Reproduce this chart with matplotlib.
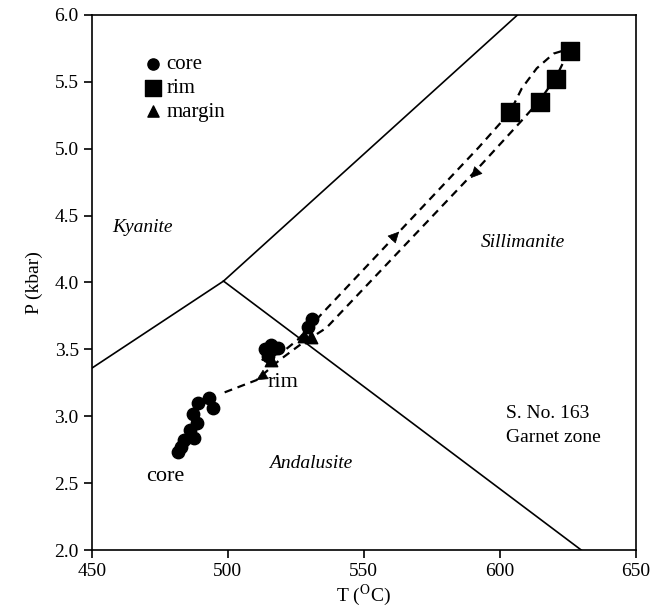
import numpy as np
import matplotlib
matplotlib.use("Agg")
from matplotlib import pyplot as plt

plt.rcParams['font.family'] = ['Liberation Serif', 'DejaVu Serif']
plt.rcParams['mathtext.fontset'] = 'stix'

# aluminosilicate reaction lines (T in oC, P in kbar)
ky_and_T = [450, 498.4]
ky_and_P = [3.36, 4.01]
ky_sil_T = [498.4, 606.6]
ky_sil_P = [4.01, 6.0]
and_sil_T = [498.4, 630.0]
and_sil_P = [4.01, 2.0]

# plagioclase cores
core_T = [492.9, 494.4, 488.9, 487.1, 488.5, 485.9, 487.4, 483.7, 482.6, 481.5,
          513.5, 516.0, 518.6, 514.6, 531.1, 529.6]
core_P = [3.14, 3.06, 3.10, 3.02, 2.95, 2.90, 2.84, 2.82, 2.77, 2.73,
          3.50, 3.53, 3.51, 3.45, 3.73, 3.67]
# porphyroblast rims
rim_T = [603.7, 614.7, 620.6, 625.7]
rim_P = [5.27, 5.35, 5.52, 5.73]
# margins
margin_T = [516.0, 528.1, 530.7]
margin_P = [3.42, 3.60, 3.59]

# prograde path (up to the rims)
pathA_T = [512.4, 520.1, 525.6, 532.9, 592.3, 603.7, 608.1, 613.6, 619.8, 624.6]
pathA_P = [3.42, 3.48, 3.57, 3.73, 5.01, 5.27, 5.45, 5.60, 5.71, 5.74]
# retrograde path (back down)
pathB_T = [625.7, 623.5, 620.6, 614.7, 608.1, 592.3, 536.2,
           526.3, 519.0, 510.5, 497.7]
pathB_P = [5.72, 5.65, 5.53, 5.36, 5.21, 4.86, 3.66,
           3.53, 3.42, 3.27, 3.17]

fig = plt.figure(figsize=(6.52, 6.16), dpi=100)
ax = fig.add_axes([0.141, 0.107, 0.834, 0.869])

for T, P in [(ky_and_T, ky_and_P), (ky_sil_T, ky_sil_P), (and_sil_T, and_sil_P)]:
    ax.plot(T, P, color='black', lw=1.2)

ax.plot(pathA_T, pathA_P, color='black', lw=1.6, ls=(0, (3.6, 2.6)))
ax.plot(pathB_T, pathB_P, color='black', lw=1.6, ls=(0, (3.6, 2.6)))

# arrow heads along the paths
def head(T, P):
    ax.annotate('', xy=(T[1], P[1]), xytext=(T[0], P[0]),
                arrowprops=dict(arrowstyle='-|>', color='black', lw=0.5,
                                mutation_scale=18, shrinkA=0, shrinkB=0))

head([561.0, 563.0], [4.337, 4.38])
head([591.4, 589.4], [4.824, 4.78])
head([512.5, 510.5], [3.295, 3.27])

ax.scatter(core_T, core_P, s=80, marker='o', color='black', label='core', zorder=3)
ax.scatter(rim_T, rim_P, s=150, marker='s', color='black', label='rim', zorder=3)
ax.scatter(margin_T, margin_P, s=80, marker='^', color='black', label='margin', zorder=3)

ax.legend(loc='upper left', bbox_to_anchor=(0.07, 0.945), frameon=False,
          fontsize=15, handletextpad=0.05, labelspacing=0.2, borderpad=0,
          handlelength=1.2, markerscale=0.9)

ax.text(457.3, 4.41, 'Kyanite', fontsize=14, style='italic', va='center')
ax.text(593.0, 4.30, 'Sillimanite', fontsize=14, style='italic', va='center')
ax.text(515.3, 2.65, 'Andalusite', fontsize=14, style='italic', va='center')
ax.text(602.2, 3.02, 'S. No. 163', fontsize=14, va='center')
ax.text(602.2, 2.84, 'Garnet zone', fontsize=14, va='center')
ax.text(514.6, 3.25, 'rim', fontsize=16, va='center')
ax.text(476.8, 2.55, 'core', fontsize=16, va='center', ha='center')

ax.set_xlim(450, 650)
ax.set_ylim(2.0, 6.0)
ax.set_xticks(np.arange(450, 651, 50))
ax.set_yticks(np.arange(2.0, 6.01, 0.5))
ax.set_yticklabels(['%.1f' % v for v in np.arange(2.0, 6.01, 0.5)])
ax.tick_params(direction='out', length=6, width=1.2, labelsize=14)
for s in ax.spines.values():
    s.set_linewidth(1.2)

ax.set_xlabel(r'T ($^{\mathrm{O}}$C)', fontsize=14, labelpad=2)
ax.set_ylabel('P (kbar)', fontsize=14, labelpad=8)

fig.savefig('out.png', dpi=100)
